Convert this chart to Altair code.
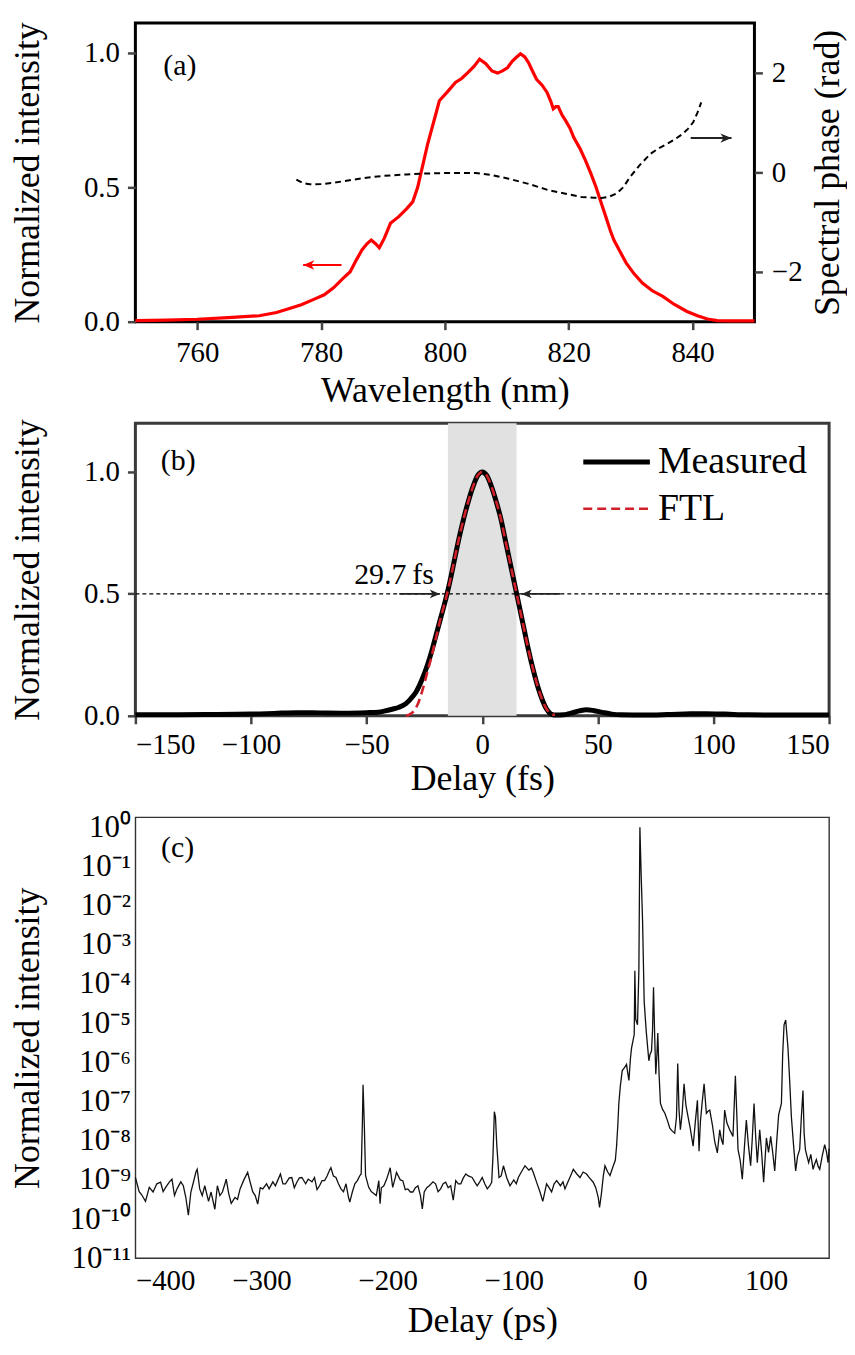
import altair as alt
import pandas as pd

FONT = "Liberation Serif"

# ---------------- Panel (a): spectrum and spectral phase ----------------
wavelength_nm = [750, 755, 760, 765, 770, 772.8, 774.5, 776.8, 779, 780.5, 782, 783.5, 784.7,
                 785.7, 786.6, 787.4, 788.1, 788.8, 789.4, 790.2, 791.2, 792.5, 793.8, 794.8,
                 795.6, 796.5, 797.2, 797.8, 798.5, 799.1, 800.4, 801.7, 802.7, 803.7, 804.7,
                 805.6, 806.6, 807.6, 808.5, 809.3, 810.1, 810.9, 811.6, 812.2, 812.9, 813.5,
                 814.2, 814.8, 815.7, 816.5, 817.1, 817.5, 817.9, 818.3, 818.9, 819.5, 820.2,
                 820.8, 821.8, 822.7, 823.6, 824.4, 825.2, 826.0, 826.7, 827.3, 828.3, 829.3,
                 830.5, 831.9, 833.5, 835.2, 837.0, 839.1, 840.8, 842.4, 844, 846, 850]
spectrum = [0.004, 0.006, 0.009, 0.015, 0.022, 0.034, 0.046, 0.063, 0.085, 0.10, 0.126, 0.16, 0.186,
            0.23, 0.267, 0.29, 0.304, 0.29, 0.275, 0.31, 0.366, 0.39, 0.42, 0.446,
            0.50, 0.59, 0.66, 0.711, 0.77, 0.822, 0.855, 0.89, 0.905, 0.927, 0.95,
            0.977, 0.96, 0.933, 0.925, 0.933, 0.945, 0.97, 0.985, 0.997, 0.985, 0.964,
            0.93, 0.902, 0.88, 0.853, 0.82, 0.792, 0.80, 0.80, 0.77, 0.748, 0.72,
            0.686, 0.645, 0.60, 0.55, 0.501, 0.445, 0.39, 0.34, 0.304, 0.26, 0.218,
            0.18, 0.144, 0.115, 0.094, 0.065, 0.038, 0.022, 0.01, 0.004, 0.003, 0.003]
phase_wavelength_nm = [776, 777, 778.1, 780, 782, 785, 787.3, 790, 793.8, 797, 800.4, 803, 805,
                       807.5, 810.3, 813.5, 816.8, 819.5, 822, 824, 825.3, 826.5, 827.7, 828.8,
                       829.9, 831.5, 833.2, 834.6, 835.9, 837.2, 838.4, 839.3, 840.1, 840.8, 841.4]
spectral_phase = [-0.147, -0.21, -0.24, -0.235, -0.21, -0.15, -0.107, -0.07, -0.04, -0.022, -0.013,
                  -0.01, -0.013, -0.05, -0.127, -0.23, -0.36, -0.43, -0.493, -0.51, -0.513, -0.49,
                  -0.427, -0.3, -0.093, 0.15, 0.373, 0.49, 0.573, 0.67, 0.773, 0.88, 1.007, 1.2, 1.407]
wl_ticks = [760, 780, 800, 820, 840]
intensity_ticks = [0.0, 0.5, 1.0]
phase_ticks = [-2, 0, 2]
# arrows: tail, tip, level
arrow_spec = {"wl": [783.3], "wl2": [777.1], "I": [0.211]}
arrow_phase = {"wl": [839.7], "wl2": [846.3], "phi": [0.69]}

# ---------------- Panel (b): pulse ----------------
delay_fs = [-150, -135, -120, -100, -90, -80, -70, -60, -50, -45, -42, -39, -36, -33, -30, -28.5,
            -26, -24, -22, -20, -18, -16, -14, -12, -10, -8, -6, -4, -2, 0, 2, 4, 6, 8, 10, 12,
            14, 16, 18, 20, 22, 24, 26, 28, 30, 32, 35, 38, 42, 45, 48, 52, 56, 60, 70, 80, 90,
            97, 105, 115, 130, 150]
measured = [0.004, 0.004, 0.005, 0.007, 0.010, 0.013, 0.012, 0.011, 0.013, 0.015, 0.02, 0.027,
            0.035, 0.05, 0.08, 0.10, 0.15, 0.20, 0.26, 0.33, 0.40, 0.47, 0.55, 0.64, 0.73, 0.81,
            0.88, 0.94, 0.985, 1.0, 0.985, 0.94, 0.88, 0.81, 0.72, 0.63, 0.54, 0.45, 0.36, 0.27,
            0.19, 0.12, 0.065, 0.025, 0.006, 0.003, 0.004, 0.01, 0.02, 0.025, 0.022, 0.014, 0.007,
            0.004, 0.003, 0.005, 0.008, 0.009, 0.007, 0.004, 0.003, 0.003]
ftl_delay_fs = [-33, -31.5, -30, -28, -26, -24, -22, -20, -18, -16, -14, -12, -10, -8, -6, -4, -2,
                0, 2, 4, 6, 8, 10, 12, 14, 16, 18, 20, 22, 24, 26, 28, 30, 31.5]
ftl = [0.0, 0.005, 0.015, 0.045, 0.10, 0.17, 0.24, 0.32, 0.40, 0.47, 0.55, 0.64, 0.73, 0.81,
       0.88, 0.94, 0.985, 1.0, 0.985, 0.94, 0.88, 0.81, 0.72, 0.63, 0.54, 0.45, 0.36, 0.27, 0.19,
       0.12, 0.065, 0.025, 0.006, 0.003]
fwhm_fs = 29.7
delay_fs_ticks = [-150, -100, -50, 0, 50, 100, 150]
fwhm_label = "29.7\u2009fs"
arrow_left = {"t": [-35.9], "t2": [-18.3], "I": [0.5]}
arrow_right = {"t": [33.8], "t2": [17.0], "I": [0.5]}
series_names = ["Measured", "FTL"]
legend_span_fs = [43.7, 72.5]          # legend sample line, in delay units
legend_levels = [1.041, 0.849]         # legend rows, in intensity units
legend_text_fs = 76.0

# ---------------- Panel (c): long-range contrast ----------------
delay_ps = [-400, -397, -395, -392, -389, -386, -383, -380, -378, -376, -373, -371, -369, -367,
            -364, -362, -360, -358, -356, -354, -352, -351, -349, -347, -345, -342, -340, -337,
            -335, -333, -331, -329, -328, -326, -324, -321, -319, -317, -314, -311, -309, -307,
            -305, -303, -301, -299, -296, -294, -291, -289, -287, -285, -283, -281, -278, -276,
            -274, -272, -270, -268, -265, -263, -260, -258, -256, -254, -252, -250, -248, -246,
            -245, -243, -241, -239, -237, -235, -233, -231, -230, -228, -226, -224, -222, -221,
            -220, -219.5, -218.5, -217.5, -215, -213, -211, -209, -207, -206, -205, -203, -201,
            -199, -198, -196, -194, -193, -190, -188, -186, -184, -182, -180, -178, -176, -174,
            -172.5, -171, -169, -167, -164, -162, -160, -158, -156, -154, -152, -150, -148, -146,
            -144, -142, -140, -138, -136, -133, -131, -129, -127, -125, -123, -121, -119, -117.5,
            -116.5, -115.4, -114.5, -113.5, -111.7, -110, -108.2, -105.5, -103, -100, -98, -96.4,
            -94, -91.1, -88, -86, -84.5, -82, -79.2, -77, -74, -72, -70, -68, -66, -63, -61,
            -59.4, -57, -55, -52.8, -50, -47.5, -45, -42.3, -40, -37, -35, -33, -32, -30.5, -29,
            -27.7, -25.5, -23.7, -21.1, -19.5, -18.5, -17.5, -16.7, -15.5, -14, -12.5, -10.6,
            -9.5, -8.7, -7.5, -6.6, -5.5, -4.5, -4.0, -3.3, -1.9, -0.8, 0, 1.0, 2.1, 3.4, 5.0,
            7.1, 8.0, 9.2, 10.0, 10.8, 11.7, 12.6, 13.5, 14.2, 15.2, 16.3, 18, 19.8, 22, 23.7,
            25.5, 27.6, 29, 30, 31, 32.1, 33.5, 35, 36.5, 38.2, 40, 42.2, 44, 45.6, 46.9, 48,
            49.3, 50.9, 52.7, 54, 55.4, 57.5, 59.3, 61.4, 63.3, 64.5, 65.9, 67.2, 69, 71.2, 73.8,
            75.7, 76.8, 77.8, 79.5, 81.2, 82.8, 84.4, 86, 87.8, 89, 90.5, 91.8, 93.1, 95, 96.5,
            98.1, 100.3, 102, 103.7, 105.3, 106.9, 108.5, 110, 112.2, 113.2, 114.3, 115.6, 117.4,
            118.8, 120.1, 121.8, 123.5, 125, 126.7, 128, 129.3, 130.2, 131.2, 132.5, 133.8, 135.5,
            137.3, 138.5, 139.9, 141.3, 142.6, 144.5, 146.5, 148, 149.2, 150]
log10_intensity = [-8.94, -9.30, -9.38, -9.55, -9.19, -9.31, -9.10, -9.06, -9.30, -9.19, -9.05,
                   -8.98, -9.40, -9.23, -9.05, -9.15, -9.45, -9.90, -9.31, -9.06, -8.80, -8.73,
                   -9.23, -9.40, -9.15, -9.55, -9.31, -9.75, -9.15, -9.40, -9.31, -9.10, -8.98,
                   -9.35, -9.60, -9.45, -9.50, -9.23, -9.00, -8.81, -9.06, -9.30, -9.40, -9.62,
                   -9.20, -9.23, -9.10, -9.23, -9.05, -9.15, -9.00, -8.85, -9.10, -9.10, -8.95,
                   -8.94, -9.20, -9.06, -8.95, -8.94, -9.10, -8.98, -9.05, -8.94, -9.25, -9.15,
                   -9.02, -9.02, -8.90, -8.75, -8.69, -8.90, -8.94, -9.10, -9.23, -9.30, -9.10,
                   -9.45, -9.57, -9.31, -9.10, -9.02, -8.89, -8.85, -7.50, -6.57, -7.60, -8.89,
                   -9.19, -9.30, -9.35, -9.40, -9.02, -9.61, -9.20, -9.15, -9.00, -8.80, -8.69,
                   -9.19, -8.95, -8.81, -9.00, -9.02, -9.25, -9.23, -9.31, -9.31, -9.20, -9.15,
                   -9.40, -9.74, -9.31, -9.20, -9.15, -9.05, -9.10, -9.30, -9.23, -9.10, -9.06,
                   -9.20, -9.15, -9.52, -9.02, -9.10, -9.10, -8.95, -8.85, -8.90, -8.94, -9.05,
                   -9.15, -9.05, -8.94, -9.10, -9.23, -9.15, -9.06, -8.40, -7.26, -7.40, -8.10,
                   -8.94, -8.90, -8.64, -8.95, -9.15, -9.00, -9.10, -8.94, -8.80, -8.64, -8.75,
                   -8.70, -8.81, -9.05, -9.31, -9.55, -9.10, -9.20, -9.31, -9.10, -9.02, -9.15,
                   -9.05, -9.23, -9.05, -8.90, -8.73, -8.85, -8.94, -8.80, -8.85, -8.95, -9.06,
                   -9.20, -9.45, -9.70, -9.35, -8.90, -8.64, -8.80, -8.89, -8.64, -8.50, -8.14,
                   -7.60, -7.05, -6.60, -6.21, -6.15, -6.05, -6.30, -6.46, -5.90, -5.63, -5.45,
                   -5.29, -3.66, -4.90, -5.04, -3.62, 0.0, -1.20, -2.36, -4.45, -5.20, -5.96,
                   -5.80, -5.71, -5.20, -4.08, -5.30, -6.30, -5.80, -5.25, -6.30, -7.05, -7.20,
                   -7.30, -7.50, -7.68, -7.75, -7.81, -7.40, -6.03, -7.20, -7.72, -7.30, -6.55,
                   -7.10, -7.39, -7.70, -8.14, -7.50, -6.97, -8.27, -7.50, -7.05, -6.55, -7.30,
                   -7.25, -7.22, -7.60, -8.02, -8.31, -7.72, -7.95, -8.10, -7.22, -7.55, -7.72,
                   -7.89, -6.34, -7.30, -8.22, -8.50, -8.98, -8.20, -7.47, -8.10, -8.64, -8.00,
                   -7.05, -7.90, -8.56, -7.72, -8.30, -9.06, -7.93, -8.30, -7.89, -8.30, -8.77,
                   -8.00, -7.34, -7.05, -5.80, -5.04, -4.92, -5.63, -6.50, -7.39, -8.10, -8.77,
                   -8.40, -8.22, -7.40, -6.72, -7.80, -8.22, -8.40, -8.56, -8.35, -8.73, -8.60,
                   -8.48, -8.65, -8.73, -8.40, -8.10, -8.30, -8.56, -8.20]
delay_ps_ticks = [-400, -300, -200, -100, 0, 100]
decade_exponents = [0, -1, -2, -3, -4, -5, -6, -7, -8, -9, -10, -11]

SUP = {"-": "\u207b", "0": "\u2070", "1": "\u00b9", "2": "\u00b2", "3": "\u00b3", "4": "\u2074",
       "5": "\u2075", "6": "\u2076", "7": "\u2077", "8": "\u2078", "9": "\u2079"}
decade_labels = ["10" + "".join(SUP[c] for c in str(e)) for e in decade_exponents]

TICK = dict(tickSize=8, tickWidth=2.5, tickColor="#444444")
RED_B = "#d0202a"

# ---------------- build panel (a) ----------------
spec_df = pd.DataFrame({"wl": wavelength_nm, "I": spectrum})
phase_df = pd.DataFrame({"wl": phase_wavelength_nm, "phi": spectral_phase})
HEAD_LEFT = "M0,0 L1,-0.42 L0.72,0 L1,0.42 Z"
HEAD_RIGHT = "M0,0 L-1,-0.42 L-0.72,0 L-1,0.42 Z"

xA_scale = alt.Scale(domain=[750, 850], nice=False, zero=False)
xA_axis = alt.Axis(values=wl_ticks, title="Wavelength (nm)", labelPadding=9, titleY=52, **TICK)
yA_scale = alt.Scale(domain=[0, 1.111], nice=False, zero=False)
yA_axis = alt.Axis(values=intensity_ticks, format=".1f", title="Normalized intensity",
                   labelPadding=8, titleX=-89, titleAngle=270, titleBaseline="bottom", **TICK)
yP_scale = alt.Scale(domain=[-3, 3], nice=False, zero=False)
yP_axis = alt.Axis(values=phase_ticks, orient="right", title="Spectral phase (rad)",
                   labelPadding=9, titleX=92, titleAngle=270, titleBaseline="bottom", **TICK)


def xa(field="wl"):
    return alt.X(f"{field}:Q", scale=xA_scale, axis=xA_axis)


spec_line = alt.Chart(spec_df).mark_line(color="#ff0000", strokeWidth=3.2).encode(
    x=xa(), y=alt.Y("I:Q", scale=yA_scale, axis=yA_axis))
arr_s = pd.DataFrame(arrow_spec)
spec_arrow = alt.Chart(arr_s).mark_rule(color="#ff0000", strokeWidth=2).encode(
    x=xa(), x2="wl2:Q", y=alt.Y("I:Q", scale=yA_scale, axis=yA_axis))
spec_head = alt.Chart(arr_s).mark_point(shape=HEAD_LEFT, filled=True, color="#ff0000",
                                        size=500, opacity=1).encode(
    x=xa("wl2"), y=alt.Y("I:Q", scale=yA_scale, axis=yA_axis))
label_a = alt.Chart(pd.DataFrame({"wl": [754.5], "I": [0.952], "t": ["(a)"]})).mark_text(
    font=FONT, fontSize=30, align="left", baseline="middle", color="black").encode(
    x=xa(), y=alt.Y("I:Q", scale=yA_scale, axis=yA_axis), text="t:N")
left_layer = alt.layer(spec_line, spec_arrow, spec_head, label_a)

phase_line = alt.Chart(phase_df).mark_line(color="black", strokeWidth=2, strokeDash=[6, 4]).encode(
    x=xa(), y=alt.Y("phi:Q", scale=yP_scale, axis=yP_axis))
arr_p = pd.DataFrame(arrow_phase)
phase_arrow = alt.Chart(arr_p).mark_rule(color="#222222", strokeWidth=2).encode(
    x=xa(), x2="wl2:Q", y=alt.Y("phi:Q", scale=yP_scale, axis=yP_axis))
phase_head = alt.Chart(arr_p).mark_point(shape=HEAD_RIGHT, filled=True, color="#222222",
                                         size=500, opacity=1).encode(
    x=xa("wl2"), y=alt.Y("phi:Q", scale=yP_scale, axis=yP_axis))
right_layer = alt.layer(phase_line, phase_arrow, phase_head)

chart_a = alt.layer(left_layer, right_layer).resolve_scale(y="independent").properties(
    width=622, height=300, view=alt.ViewBackground(stroke="black", strokeWidth=3))

# ---------------- build panel (b) ----------------
xB_scale = alt.Scale(domain=[-150, 150], nice=False, zero=False)
xB_axis = alt.Axis(values=delay_fs_ticks, title="Delay (fs)", labelPadding=7, titleY=46, **TICK)
yB_scale = alt.Scale(domain=[0, 1.2], nice=False, zero=False)
yB_axis = alt.Axis(values=intensity_ticks, format=".1f", title="Normalized intensity",
                   labelPadding=8, titleX=-89, titleAngle=270, titleBaseline="bottom", **TICK)


def xb(field="t"):
    return alt.X(f"{field}:Q", scale=xB_scale, axis=xB_axis)


def yb(field="I"):
    return alt.Y(f"{field}:Q", scale=yB_scale, axis=yB_axis)


band = alt.Chart(pd.DataFrame({"t": [-fwhm_fs / 2], "t2": [fwhm_fs / 2], "I": [0.0], "I2": [1.2]})
                 ).mark_rect(color="#e1e1e1").encode(x=xb(), x2="t2:Q", y=yb(), y2="I2:Q")
half = alt.Chart(pd.DataFrame({"I": [0.5]})).mark_rule(
    color="black", strokeWidth=1.1, strokeDash=[4, 3]).encode(y=yb())

meas_df = pd.DataFrame({"t": delay_fs, "I": measured})
ftl_df = pd.DataFrame({"t": ftl_delay_fs, "I": ftl})
meas_line = alt.Chart(meas_df).mark_line(interpolate="monotone", color="black",
                                         strokeWidth=5).encode(x=xb(), y=yb())
ftl_line = alt.Chart(ftl_df).mark_line(interpolate="monotone", color=RED_B, strokeWidth=2.6,
                                       strokeDash=[9, 5]).encode(x=xb(), y=yb())

# legend (sample lines + labels), drawn in the panel
leg_df = pd.DataFrame({"t": [legend_span_fs[0]] * 2, "t2": [legend_span_fs[1]] * 2,
                       "I": legend_levels, "tx": [legend_text_fs] * 2, "s": series_names})
leg_meas = alt.Chart(leg_df.iloc[[0]]).mark_rule(color="black", strokeWidth=5).encode(
    x=xb(), x2="t2:Q", y=yb())
leg_ftl = alt.Chart(leg_df.iloc[[1]]).mark_rule(color=RED_B, strokeWidth=2.6,
                                                strokeDash=[9, 5]).encode(x=xb(), x2="t2:Q", y=yb())
leg_text = alt.Chart(leg_df).mark_text(font=FONT, fontSize=38, align="left", baseline="middle",
                                       color="black").encode(x=xb("tx"), y=yb(), text="s:N")

arr_l = pd.DataFrame(arrow_left)
arr_r = pd.DataFrame(arrow_right)
arrows_b = []
for df, head in ((arr_l, HEAD_RIGHT), (arr_r, HEAD_LEFT)):
    arrows_b.append(alt.Chart(df).mark_rule(color="#222222", strokeWidth=1.6).encode(
        x=xb(), x2="t2:Q", y=yb()))
    arrows_b.append(alt.Chart(df).mark_point(shape=head, filled=True, color="#222222", size=420,
                                             opacity=1).encode(x=xb("t2"), y=yb()))
fwhm_text = alt.Chart(pd.DataFrame({"t": [-20.9], "I": [0.539], "s": [fwhm_label]})).mark_text(
    font=FONT, fontSize=30, align="right", baseline="alphabetic", color="black").encode(
    x=xb(), y=yb(), text="s:N")
label_b = alt.Chart(pd.DataFrame({"t": [-139], "I": [1.045], "s": ["(b)"]})).mark_text(
    font=FONT, fontSize=30, align="left", baseline="middle", color="black").encode(
    x=xb(), y=yb(), text="s:N")

chart_b = alt.layer(band, half, *arrows_b, meas_line, ftl_line, leg_meas, leg_ftl, leg_text,
                    fwhm_text, label_b).properties(
    width=697, height=294, view=alt.ViewBackground(stroke="#3a3a3a", strokeWidth=3))

# ---------------- build panel (c) ----------------
c_df = pd.DataFrame({"t": delay_ps, "logI": log10_intensity})
c_df["I"] = 10.0 ** c_df["logI"]
label_expr = ""
for e, lab in zip(decade_exponents[::-1], decade_labels[::-1]):
    label_expr += f"datum.value < {10.0 ** (e + 0.5):.3e} ? '{lab}' : "
label_expr += f"'{decade_labels[0]}'"

xC_scale = alt.Scale(domain=[-400, 150], nice=False, zero=False)
xC_axis = alt.Axis(values=delay_ps_ticks, title="Delay (ps)", ticks=False, tickSize=0,
                   labelPadding=8, titleY=46)
yC_scale = alt.Scale(type="log", domain=[1e-11, 1.8], nice=False)
yC_axis = alt.Axis(values=[10.0 ** e for e in decade_exponents], labelExpr=label_expr,
                   title="Normalized intensity", ticks=False, tickSize=0, labelPadding=5,
                   labelFontSize=31, titleX=-89, titleAngle=270, titleBaseline="bottom")

c_line = alt.Chart(c_df).mark_line(color="#111111", strokeWidth=1.3).encode(
    x=alt.X("t:Q", scale=xC_scale, axis=xC_axis), y=alt.Y("I:Q", scale=yC_scale, axis=yC_axis))
label_c = alt.Chart(pd.DataFrame({"t": [-379.7], "I": [0.3], "s": ["(c)"]})).mark_text(
    font=FONT, fontSize=30, align="left", baseline="middle", color="black").encode(
    x=alt.X("t:Q", scale=xC_scale, axis=xC_axis), y=alt.Y("I:Q", scale=yC_scale, axis=yC_axis),
    text="s:N")
chart_c = alt.layer(c_line, label_c).properties(
    width=697, height=443, view=alt.ViewBackground(stroke="#333333", strokeWidth=1.4))

# ---------------- layout ----------------
chart = alt.vconcat(chart_a, chart_b, chart_c, spacing=102, bounds="flush").properties(
    padding={"left": 0, "top": 9, "right": 0, "bottom": 0}, background="white"
).configure_axis(
    labelFont=FONT, titleFont=FONT, labelFontSize=29, titleFontSize=36, titleFontWeight="normal",
    labelColor="black", titleColor="black", grid=False, domain=False
).configure_view(stroke=None)

chart.save("out.html", embed_options={"renderer": "svg", "actions": False})
